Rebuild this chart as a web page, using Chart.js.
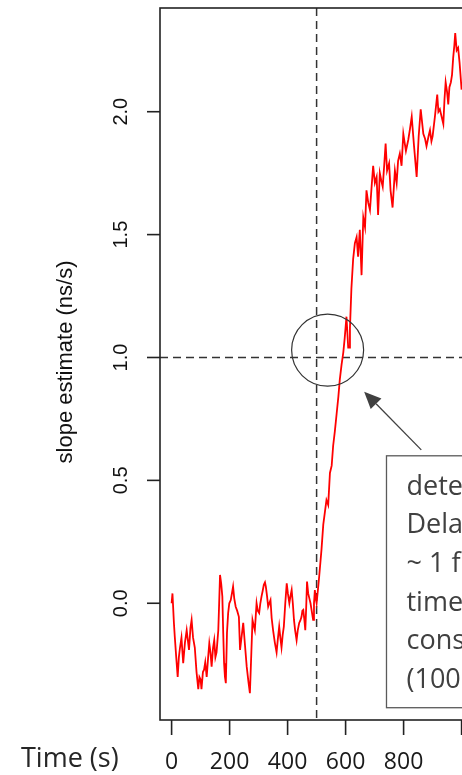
<!DOCTYPE html>
<html>
<head>
<meta charset="utf-8">
<script src="https://cdn.jsdelivr.net/npm/chart.js@4.4.1/dist/chart.umd.min.js"></script>
<style>
html,body{margin:0;padding:0;background:#fff;overflow:hidden}
#wrap{position:relative;width:462px;height:775px;overflow:hidden;background:#fff}
canvas{display:block}
</style>
</head>
<body>
<div id="wrap"><canvas id="c" width="520" height="775" style="width:520px;height:775px"></canvas></div>
<script>
// ---- data ----
const times = [0,3,8,11,16,21,25,29,34,40,46,52,60,65,69,74,80,86,92,96,100,103,108,112,116,121,126,130,134,138,143,147,151,155,161,164,167,171,175,178,181,184,187,191,195,199,204,208,212,216,221,226,232,236,241,247,253,259,265,270,275,279,283,287,293,297,302,306,310,314,318,322,325,329,333,337,341,345,350,356,362,366,371,375,379,383,387,392,397,401,406,410,414,418,422,426,431,435,440,444,448,451,454,458,461,464,467,471,475,479,483,488,491,494,497,500,505,509,517,523,534,540,546,552,557,563,569,575,580,586,592,597,603,609,612,615,620,626,632,638,643,649,655,661,667,672,678,684,690,695,701,707,712,718,723,728,733,738,743,750,755,762,770,776,781,787,793,799,808,816,822,828,836,845,852,859,868,874,879,886,891,896,900,908,916,920,925,931,937,941,945,950,954,958,963,967,971,975,978,983,988,993,1000];
const slope = [0.00,0.04,-0.08,-0.136,-0.22,-0.30,-0.22,-0.18,-0.14,-0.244,-0.16,-0.11,-0.19,-0.10,-0.068,-0.14,-0.18,-0.28,-0.35,-0.30,-0.31,-0.35,-0.28,-0.27,-0.24,-0.30,-0.22,-0.163,-0.20,-0.258,-0.18,-0.15,-0.22,-0.20,-0.11,0.00,0.115,0.08,0.027,-0.12,-0.244,-0.30,-0.325,-0.12,-0.04,0.00,0.013,0.04,0.068,0.02,-0.014,-0.03,-0.055,-0.19,-0.14,-0.08,-0.17,-0.258,-0.32,-0.366,-0.20,-0.068,-0.09,-0.11,0.00,-0.03,-0.04,0.00,0.027,0.05,0.075,0.085,0.068,0.03,-0.014,0.00,0.013,-0.06,-0.11,-0.16,-0.20,-0.15,-0.095,-0.14,-0.18,-0.13,-0.095,0.00,0.081,0.04,0.00,0.03,0.054,0.00,-0.068,-0.11,-0.15,-0.11,-0.08,-0.07,-0.055,-0.03,-0.027,-0.07,-0.11,-0.02,0.088,0.04,0.02,0.00,-0.03,-0.068,0.00,0.054,0.02,0.00,0.06,0.11,0.22,0.32,0.42,0.40,0.53,0.56,0.64,0.70,0.77,0.84,0.91,0.97,1.02,1.08,1.166,1.04,1.04,1.12,1.28,1.40,1.465,1.49,1.41,1.52,1.335,1.57,1.53,1.68,1.63,1.60,1.70,1.78,1.71,1.735,1.58,1.75,1.72,1.695,1.78,1.87,1.76,1.79,1.68,1.61,1.76,1.71,1.80,1.83,1.78,1.91,1.84,1.885,1.93,1.98,1.86,1.735,1.90,2.01,1.91,1.89,1.86,1.90,1.925,1.88,1.90,1.98,2.07,2.00,2.01,1.98,1.95,2.05,2.12,2.08,2.03,2.10,2.12,2.15,2.22,2.27,2.32,2.25,2.26,2.20,2.09];

const xTicks = [0,200,400,600,800,1000];
const xTickLabels = ['0','200','400','600','800'];
const yTicks = [0,0.5,1.0,1.5,2.0];
const yTickLabels = ['0.0','0.5','1.0','1.5','2.0'];
const xTitle = 'Time (s)';
const yTitle = 'slope estimate (ns/s)';
const onsetTime = 500;
const thresholdValue = 1.0;
const circleAt = [538, 1.03];
const arrowFrom = [861, 0.624];
const arrowTo = [664, 0.861];
const noteAt = [741, 0.60, -0.425];
const noteLines = ['detection','Delay:','~ 1 filter','time','constant','(1000 s)'];

const overlay = {
  id: 'overlay',
  beforeDatasetsDraw(chart) {
    const {ctx, chartArea: a, scales: {x, y}} = chart;
    ctx.save();
    ctx.strokeStyle = '#333';
    ctx.lineWidth = 1.5;
    ctx.setLineDash([8, 5]);
    const vx = x.getPixelForValue(onsetTime);
    ctx.beginPath(); ctx.moveTo(vx, a.top); ctx.lineTo(vx, a.bottom); ctx.stroke();
    const hy = y.getPixelForValue(thresholdValue);
    ctx.beginPath(); ctx.moveTo(a.left, hy); ctx.lineTo(a.right, hy); ctx.stroke();
    ctx.restore();
  },
  afterDatasetsDraw(chart) {
    const {ctx, chartArea: a, scales: {x, y}} = chart;
    ctx.save();
    // frame
    ctx.strokeStyle = '#222';
    ctx.lineWidth = 1.6;
    ctx.strokeRect(a.left, a.top, a.right - a.left, a.bottom - a.top);
    // y ticks
    ctx.fillStyle = '#111';
    ctx.font = '20px "Liberation Sans", Arial, sans-serif';
    ctx.textAlign = 'center';
    ctx.textBaseline = 'alphabetic';
    yTicks.forEach((v, i) => {
      const py = y.getPixelForValue(v);
      ctx.beginPath(); ctx.moveTo(a.left - 13, py); ctx.lineTo(a.left, py); ctx.stroke();
      ctx.save();
      ctx.translate(a.left - 33, py);
      ctx.rotate(-Math.PI / 2);
      ctx.fillText(yTickLabels[i], 0, 0);
      ctx.restore();
    });
    // y title
    ctx.save();
    ctx.font = '22px "Liberation Sans", Arial, sans-serif';
    ctx.translate(72, (a.top + a.bottom) / 2 - 2);
    ctx.rotate(-Math.PI / 2);
    ctx.fillText(yTitle, 0, 0);
    ctx.restore();
    // x ticks
    xTicks.forEach(v => {
      const px = x.getPixelForValue(v);
      ctx.beginPath(); ctx.moveTo(px, a.bottom); ctx.lineTo(px, a.bottom + 15); ctx.stroke();
    });
    ctx.font = '23px "Open Sans", sans-serif';
    ctx.fillStyle = '#1a1a1a';
    ctx.textBaseline = 'middle';
    xTickLabels.forEach(l => {
      const px = x.getPixelForValue(Number(l));
      ctx.fillText(l, px, 762);
    });
    ctx.font = '27px "Open Sans", sans-serif';
    ctx.fillStyle = '#262626';
    ctx.textAlign = 'left';
    ctx.fillText(xTitle, 21, 759);
    // circle
    ctx.strokeStyle = '#333';
    ctx.lineWidth = 1.2;
    ctx.beginPath();
    ctx.arc(x.getPixelForValue(circleAt[0]), y.getPixelForValue(circleAt[1]), 36, 0, Math.PI * 2);
    ctx.stroke();
    // arrow
    const ax0 = x.getPixelForValue(arrowFrom[0]), ay0 = y.getPixelForValue(arrowFrom[1]);
    const ax1 = x.getPixelForValue(arrowTo[0]), ay1 = y.getPixelForValue(arrowTo[1]);
    const ang = Math.atan2(ay1 - ay0, ax1 - ax0);
    const hl = 17, hw = 7.5;
    const bx = ax1 - hl * Math.cos(ang), by = ay1 - hl * Math.sin(ang);
    ctx.strokeStyle = '#404040';
    ctx.fillStyle = '#404040';
    ctx.lineWidth = 1.3;
    ctx.beginPath(); ctx.moveTo(ax0, ay0); ctx.lineTo(bx, by); ctx.stroke();
    ctx.beginPath();
    ctx.moveTo(ax1, ay1);
    ctx.lineTo(bx + hw * Math.sin(ang), by - hw * Math.cos(ang));
    ctx.lineTo(bx - hw * Math.sin(ang), by + hw * Math.cos(ang));
    ctx.closePath(); ctx.fill();
    // note box
    const nx = x.getPixelForValue(noteAt[0]);
    const ny0 = y.getPixelForValue(noteAt[1]);
    const ny1 = y.getPixelForValue(noteAt[2]);
    ctx.fillStyle = '#fff';
    ctx.fillRect(nx, ny0, 200, ny1 - ny0);
    ctx.strokeStyle = '#5a5a5a';
    ctx.lineWidth = 1.3;
    ctx.strokeRect(nx, ny0, 200, ny1 - ny0);
    ctx.fillStyle = '#404040';
    ctx.font = '27px "Open Sans", sans-serif';
    ctx.textBaseline = 'alphabetic';
    noteLines.forEach((t, i) => ctx.fillText(t, nx + 20, ny0 + 39 + i * 38.6));
    ctx.restore();
  }
};

new Chart(document.getElementById('c'), {
  type: 'line',
  data: {
    datasets: [{
      data: times.map((t, i) => ({x: t, y: slope[i]})),
      borderColor: '#ff0000',
      borderWidth: 1.8,
      pointRadius: 0,
      tension: 0,
      fill: false
    }]
  },
  options: {
    responsive: false,
    animation: false,
    devicePixelRatio: 1,
    layout: {padding: {left: 160, top: 8, right: 46.8, bottom: 55}},
    scales: {
      x: {type: 'linear', min: -40, max: 1040, display: false},
      y: {type: 'linear', min: -0.475, max: 2.422, display: false}
    },
    plugins: {legend: {display: false}, tooltip: {enabled: false}}
  },
  plugins: [overlay]
});
</script>
</body>
</html>
